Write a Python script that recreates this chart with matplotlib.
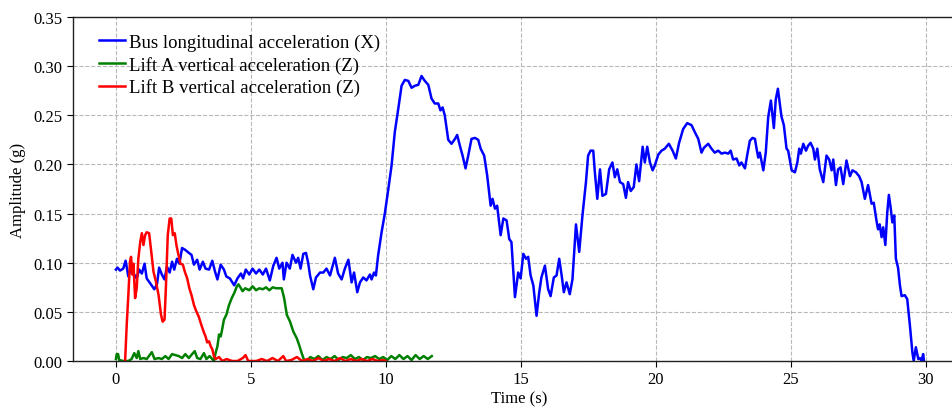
import matplotlib
matplotlib.use("Agg")
import matplotlib.pyplot as plt

# Bus longitudinal acceleration (X)
bus_t = [0.0, 0.06, 0.15, 0.27, 0.36, 0.46, 0.55, 0.65, 0.77, 0.86, 0.96, 1.06, 1.14, 1.27, 1.42,
         1.52, 1.60, 1.70, 1.80, 1.89, 1.99, 2.08, 2.16, 2.26, 2.35, 2.45, 2.57, 2.70, 2.80, 2.89,
         3.01, 3.10, 3.22, 3.32, 3.45, 3.57, 3.67, 3.76, 3.88, 4.00, 4.09, 4.22, 4.38, 4.50, 4.63,
         4.71, 4.81, 4.94, 5.06, 5.19, 5.31, 5.44, 5.56, 5.70, 5.83, 5.95, 6.05, 6.17, 6.22, 6.32,
         6.44, 6.54, 6.67, 6.75, 6.84, 6.94, 7.04, 7.12, 7.19, 7.31, 7.41, 7.56, 7.68, 7.80, 7.93,
         8.11, 8.23, 8.36, 8.48, 8.61, 8.73, 8.82, 8.94, 9.04, 9.16, 9.28, 9.41, 9.47, 9.56, 9.63,
         9.71, 9.84, 9.96, 10.09, 10.21, 10.33, 10.46, 10.58, 10.70, 10.83, 10.95, 11.07, 11.20,
         11.32, 11.44, 11.57, 11.69, 11.81, 11.94, 12.02, 12.10, 12.18, 12.31, 12.43, 12.56, 12.64,
         12.74, 12.84, 12.95, 13.05, 13.17, 13.30, 13.42, 13.51, 13.64, 13.75, 13.88, 13.95, 14.04,
         14.12, 14.25, 14.35, 14.47, 14.57, 14.65, 14.78, 14.90, 14.99, 15.09, 15.19, 15.27, 15.36,
         15.46, 15.58, 15.68, 15.76, 15.89, 16.01, 16.10, 16.22, 16.32, 16.42, 16.51, 16.59, 16.69,
         16.81, 16.91, 17.04, 17.16, 17.28, 17.41, 17.49, 17.58, 17.68, 17.74, 17.83, 17.93, 18.02,
         18.15, 18.27, 18.39, 18.48, 18.57, 18.67, 18.79, 18.89, 18.97, 19.07, 19.18, 19.28, 19.38,
         19.51, 19.59, 19.68, 19.78, 19.88, 19.96, 20.09, 20.21, 20.33, 20.48, 20.62, 20.74, 20.86,
         21.01, 21.16, 21.32, 21.44, 21.57, 21.69, 21.78, 21.94, 22.06, 22.18, 22.31, 22.43, 22.56,
         22.68, 22.77, 22.86, 22.99, 23.09, 23.17, 23.30, 23.38, 23.48, 23.58, 23.67, 23.73, 23.79,
         23.85, 23.98, 24.07, 24.16, 24.26, 24.37, 24.44, 24.52, 24.59, 24.65, 24.74, 24.84, 24.90,
         25.03, 25.15, 25.24, 25.31, 25.37, 25.46, 25.56, 25.64, 25.73, 25.83, 25.89, 25.98, 26.07,
         26.20, 26.32, 26.42, 26.51, 26.57, 26.67, 26.75, 26.84, 26.94, 27.06, 27.19, 27.28, 27.41,
         27.53, 27.62, 27.74, 27.86, 27.99, 28.07, 28.17, 28.23, 28.29, 28.36, 28.42, 28.50, 28.57,
         28.63, 28.70, 28.76, 28.83, 28.89, 28.97, 29.04, 29.10, 29.22, 29.31, 29.41, 29.50, 29.55,
         29.63, 29.72, 29.78, 29.84, 29.90, 29.93]
bus_acc = [0.093, 0.095, 0.092, 0.094, 0.102, 0.086, 0.094, 0.089, 0.084, 0.093, 0.089, 0.099, 0.084,
           0.079, 0.073, 0.078, 0.095, 0.088, 0.083, 0.096, 0.090, 0.101, 0.093, 0.104, 0.099, 0.115,
           0.113, 0.110, 0.108, 0.098, 0.103, 0.093, 0.101, 0.094, 0.093, 0.102, 0.091, 0.083, 0.098,
           0.093, 0.086, 0.084, 0.077, 0.084, 0.089, 0.084, 0.093, 0.088, 0.094, 0.089, 0.093, 0.088,
           0.094, 0.082, 0.097, 0.105, 0.094, 0.100, 0.083, 0.100, 0.094, 0.108, 0.100, 0.105, 0.094,
           0.109, 0.110, 0.100, 0.087, 0.073, 0.085, 0.090, 0.090, 0.094, 0.087, 0.105, 0.089, 0.083,
           0.094, 0.103, 0.080, 0.090, 0.070, 0.080, 0.085, 0.082, 0.088, 0.083, 0.090, 0.087, 0.107,
           0.131, 0.150, 0.175, 0.199, 0.233, 0.257, 0.280, 0.286, 0.285, 0.278, 0.280, 0.281, 0.290,
           0.285, 0.281, 0.267, 0.262, 0.262, 0.255, 0.258, 0.250, 0.225, 0.221, 0.226, 0.230, 0.219,
           0.209, 0.196, 0.209, 0.226, 0.227, 0.225, 0.216, 0.209, 0.189, 0.158, 0.165, 0.155, 0.158,
           0.128, 0.145, 0.143, 0.124, 0.121, 0.065, 0.090, 0.084, 0.109, 0.104, 0.106, 0.087, 0.077,
           0.046, 0.070, 0.085, 0.097, 0.073, 0.066, 0.085, 0.087, 0.104, 0.087, 0.070, 0.080, 0.068,
           0.083, 0.139, 0.111, 0.148, 0.182, 0.209, 0.214, 0.214, 0.192, 0.165, 0.195, 0.168, 0.170,
           0.195, 0.202, 0.187, 0.195, 0.182, 0.180, 0.166, 0.182, 0.173, 0.177, 0.200, 0.183, 0.218,
           0.202, 0.218, 0.202, 0.194, 0.199, 0.210, 0.214, 0.216, 0.221, 0.214, 0.206, 0.222, 0.236,
           0.242, 0.240, 0.233, 0.226, 0.212, 0.217, 0.221, 0.216, 0.212, 0.214, 0.211, 0.212, 0.211,
           0.214, 0.205, 0.206, 0.199, 0.202, 0.196, 0.209, 0.224, 0.227, 0.226, 0.216, 0.207, 0.212,
           0.194, 0.212, 0.248, 0.265, 0.237, 0.266, 0.277, 0.262, 0.249, 0.240, 0.216, 0.214, 0.194,
           0.192, 0.202, 0.216, 0.211, 0.221, 0.214, 0.219, 0.222, 0.216, 0.205, 0.216, 0.195, 0.182,
           0.209, 0.205, 0.194, 0.205, 0.179, 0.195, 0.197, 0.180, 0.204, 0.188, 0.194, 0.192, 0.188,
           0.182, 0.165, 0.179, 0.160, 0.161, 0.143, 0.134, 0.139, 0.126, 0.136, 0.118, 0.151, 0.169,
           0.155, 0.141, 0.148, 0.104, 0.095, 0.077, 0.066, 0.067, 0.063, 0.036, 0.009, 0.000, 0.014,
           0.002, 0.003, 0.000, 0.007, 0.000]

# Lift A vertical acceleration (Z)
lift_a_t = [0.0, 0.03, 0.08, 0.12, 0.27, 0.46, 0.58, 0.68, 0.77, 0.83, 0.90, 1.02, 1.14, 1.33, 1.43,
            1.58, 1.70, 1.83, 1.95, 2.08, 2.20, 2.33, 2.45, 2.57, 2.70, 2.82, 2.92, 3.01, 3.13, 3.26,
            3.35, 3.47, 3.57, 3.63, 3.69, 3.76, 3.82, 3.88, 3.92, 4.00, 4.09, 4.19, 4.29, 4.38, 4.48,
            4.54, 4.63, 4.69, 4.79, 4.94, 5.06, 5.19, 5.31, 5.44, 5.56, 5.68, 5.81, 5.93, 6.05, 6.14,
            6.23, 6.33, 6.45, 6.57, 6.70, 6.79, 6.88, 6.97, 7.06, 7.20, 7.35, 7.50, 7.65, 7.80, 7.95,
            8.10, 8.25, 8.40, 8.55, 8.70, 8.85, 9.00, 9.15, 9.30, 9.45, 9.60, 9.75, 9.90, 10.05, 10.20,
            10.35, 10.50, 10.65, 10.80, 10.95, 11.10, 11.25, 11.40, 11.55, 11.70]
lift_a_acc = [0.002, 0.007, 0.007, 0.001, 0.000, 0.000, 0.002, 0.008, 0.003, 0.010, 0.002, 0.003,
              0.002, 0.009, 0.002, 0.003, 0.002, 0.005, 0.002, 0.007, 0.006, 0.005, 0.003, 0.007,
              0.003, 0.007, 0.010, 0.003, 0.002, 0.008, 0.002, 0.005, 0.002, 0.000, 0.008, 0.015,
              0.027, 0.025, 0.030, 0.042, 0.047, 0.057, 0.064, 0.069, 0.076, 0.078, 0.074, 0.071,
              0.074, 0.072, 0.076, 0.072, 0.074, 0.073, 0.075, 0.072, 0.075, 0.074, 0.074, 0.074,
              0.064, 0.047, 0.040, 0.030, 0.023, 0.016, 0.008, 0.001, 0.000, 0.004, 0.002, 0.005,
              0.001, 0.004, 0.002, 0.005, 0.001, 0.004, 0.003, 0.006, 0.002, 0.004, 0.001, 0.004,
              0.003, 0.005, 0.002, 0.004, 0.001, 0.005, 0.002, 0.006, 0.002, 0.005, 0.001, 0.006,
              0.002, 0.005, 0.002, 0.005]

# Lift B vertical acceleration (Z)
lift_b_t = [0.34, 0.40, 0.46, 0.52, 0.56, 0.61, 0.65, 0.71, 0.77, 0.83, 0.90, 0.96, 1.02, 1.08, 1.14,
            1.23, 1.31, 1.39, 1.48, 1.58, 1.67, 1.73, 1.80, 1.85, 1.92, 1.99, 2.05, 2.11, 2.18, 2.24,
            2.30, 2.39, 2.48, 2.55, 2.64, 2.72, 2.80, 2.89, 2.97, 3.07, 3.16, 3.26, 3.32, 3.38, 3.45,
            3.51, 3.57, 3.63, 3.69, 3.82, 3.94, 4.10, 4.30, 4.50, 4.70, 4.80, 4.90, 5.20, 5.40, 5.60,
            5.80, 6.00, 6.20, 6.30, 6.50, 6.70, 6.90, 7.10, 7.30, 7.50, 7.70, 7.90, 8.10, 8.30, 8.50,
            8.70, 8.90, 9.10, 9.30, 9.50, 9.70, 9.90, 10.00]
lift_b_acc = [0.000, 0.037, 0.067, 0.101, 0.106, 0.088, 0.099, 0.064, 0.074, 0.104, 0.121, 0.130,
              0.118, 0.128, 0.131, 0.130, 0.111, 0.091, 0.081, 0.067, 0.047, 0.040, 0.042, 0.074,
              0.128, 0.145, 0.145, 0.128, 0.130, 0.118, 0.110, 0.099, 0.098, 0.091, 0.084, 0.074,
              0.067, 0.057, 0.051, 0.045, 0.037, 0.029, 0.025, 0.019, 0.020, 0.015, 0.012, 0.005,
              0.002, 0.004, 0.000, 0.002, 0.000, 0.000, 0.003, 0.006, 0.000, 0.000, 0.002, 0.000,
              0.003, 0.000, 0.005, 0.000, 0.001, 0.004, 0.000, 0.002, 0.000, 0.003, 0.000, 0.002,
              0.000, 0.003, 0.000, 0.002, 0.000, 0.002, 0.000, 0.002, 0.000, 0.001, 0.000]

x_ticks = [0, 5, 10, 15, 20, 25, 30]
y_ticks = [0.00, 0.05, 0.10, 0.15, 0.20, 0.25, 0.30, 0.35]

plt.rcParams["font.family"] = ["Liberation Serif", "DejaVu Serif"]

fig = plt.figure(figsize=(9.53, 4.10), dpi=100)
ax = fig.add_axes([73 / 953, 48 / 410, 892 / 953, 344 / 410])

ax.plot(bus_t, bus_acc, color="#0000ff", lw=1.8, label="Bus longitudinal acceleration (X)")
ax.plot(lift_a_t, lift_a_acc, color="#008000", lw=1.8, label="Lift A vertical acceleration (Z)")
ax.plot(lift_b_t, lift_b_acc, color="#ff0000", lw=1.8, label="Lift B vertical acceleration (Z)")

ax.set_xlim(-1.59, 31.45)
ax.set_ylim(0, 0.35)
ax.set_xticks(x_ticks)
ax.set_yticks(y_ticks)
ax.set_yticklabels([f"{v:.2f}" for v in y_ticks])
ax.tick_params(axis="both", labelsize=12, length=4, width=0.8, direction="out")
ax.grid(True, linestyle="--", color="#b8b8b8", linewidth=0.8)
ax.set_axisbelow(True)

for side in ("left", "bottom", "top"):
    ax.spines[side].set_color("#222222")
    ax.spines[side].set_linewidth(1.0)
ax.spines["right"].set_visible(False)

ax.set_xlabel("Time (s)", fontsize=12, labelpad=2)
ax.set_ylabel("Amplitude (g)", fontsize=12, labelpad=5)

ax.legend(loc="upper left", bbox_to_anchor=(0.029, 0.952), frameon=False, fontsize=13.5,
          handlelength=1.4, handletextpad=0.2, labelspacing=0.26, borderpad=0, borderaxespad=0)

fig.savefig("out.png", dpi=100)
